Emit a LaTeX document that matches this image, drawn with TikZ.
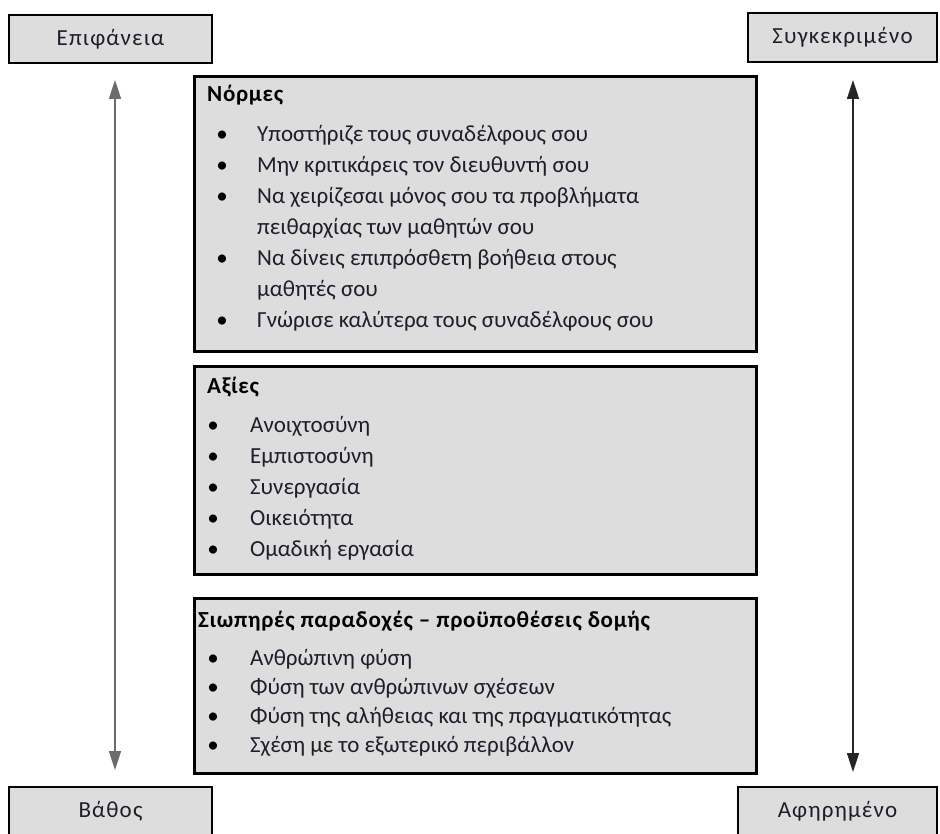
\documentclass[tikz,border=0pt]{standalone}
\usepackage{fontspec}
\setmainfont{Carlito}
\usetikzlibrary{arrows.meta}
\definecolor{boxgray}{RGB}{221,221,221}
\definecolor{txtcol}{RGB}{30,30,40}
\tikzset{
  lblbox/.style={draw=black, line width=2.8pt, fill=boxgray, inner sep=0pt,
    font=\fontsize{23}{27}\selectfont\addfontfeatures{LetterSpace=5}, text=txtcol},
  bigbox/.style={draw=black, line width=2.8pt, fill=boxgray, inner sep=0pt, anchor=north west},
  txt/.style={anchor=base west, inner sep=0pt, text=txtcol, font=\fontsize{23}{27}\selectfont},
  hd/.style={anchor=base west, inner sep=0pt, text=black, font=\bfseries\fontsize{23}{27}\selectfont\addfontfeatures{LetterSpace=3}},
  bul/.style={anchor=base, inner sep=0pt, text=black, font=\fontsize{23}{27}\selectfont},
  axisarrow/.style={line width=1.6pt, {Triangle[length=19pt,width=12pt]}-{Triangle[length=19pt,width=12pt]}}
}
\begin{document}
\begin{tikzpicture}[x=1pt,y=-1pt]
\useasboundingbox (0,0) rectangle (940,834);
% corner labels
\node[lblbox, minimum width=203pt, minimum height=48pt] (epi) at (110.5,39) {Επιφάνεια};
\node[lblbox, minimum width=189pt, minimum height=49pt] (synk) at (842.5,37.5) {Συγκεκριμένο};
\node[lblbox, minimum width=203pt, minimum height=49pt] (vath) at (110.5,811.5) {Βάθος};
\node[lblbox, minimum width=199pt, minimum height=49pt] (afir) at (837.5,811.5) {Αφηρημένο};
% big boxes
\node[bigbox, minimum width=562pt, minimum height=275pt] (norm) at (193,75) {};
\node[bigbox, minimum width=562pt, minimum height=208pt] (axies) at (193,365) {};
\node[bigbox, minimum width=562pt, minimum height=175pt] (siop) at (193,597) {};
% arrows
\coordinate (ltop) at (115,80);
\coordinate (lbot) at (115,770);
\coordinate (rtop) at (853,80);
\coordinate (rbot) at (853,772);
\draw[axisarrow, draw=gray!85!black] (ltop) -- (lbot);
\draw[axisarrow, draw=black!85] (rtop) -- (rbot);
% box 1
\node[hd] (h1) at (207,102) {Νόρμες};
\node[bul] (b11) at (222,142) {•};
\node[txt] (t11) at (257,142) {Υποστήριζε τους συναδέλφους σου};
\node[bul] (b12) at (222,173) {•};
\node[txt] (t12) at (257,173) {Μην κριτικάρεις τον διευθυντή σου};
\node[bul] (b13) at (222,204) {•};
\node[txt] (t13) at (257,204) {Να χειρίζεσαι μόνος σου τα προβλήματα};
\node[txt] (t13b) at (257,235) {πειθαρχίας των μαθητών σου};
\node[bul] (b14) at (222,266) {•};
\node[txt] (t14) at (257,266) {Να δίνεις επιπρόσθετη βοήθεια στους};
\node[txt] (t14b) at (257,297) {μαθητές σου};
\node[bul] (b15) at (222,328) {•};
\node[txt] (t15) at (257,328) {Γνώρισε καλύτερα τους συναδέλφους σου};
% box 2
\node[hd] (h2) at (207,393) {Αξίες};
\node[bul] (b21) at (213,432) {•};
\node[txt] (t21) at (250,432) {Ανοιχτοσύνη};
\node[bul] (b22) at (213,463) {•};
\node[txt] (t22) at (250,463) {Εμπιστοσύνη};
\node[bul] (b23) at (213,494) {•};
\node[txt] (t23) at (250,494) {Συνεργασία};
\node[bul] (b24) at (213,525) {•};
\node[txt] (t24) at (250,525) {Οικειότητα};
\node[bul] (b25) at (213,556) {•};
\node[txt] (t25) at (250,556) {Ομαδική εργασία};
% box 3
\node[hd] (h3) at (198,627) {Σιωπηρές παραδοχές – προϋποθέσεις δομής};
\node[bul] (b31) at (213,665) {•};
\node[txt] (t31) at (250,665) {Ανθρώπινη φύση};
\node[bul] (b32) at (213,694) {•};
\node[txt] (t32) at (250,694) {Φύση των ανθρώπινων σχέσεων};
\node[bul] (b33) at (213,723) {•};
\node[txt] (t33) at (250,723) {Φύση της αλήθειας και της πραγματικότητας};
\node[bul] (b34) at (213,752) {•};
\node[txt] (t34) at (250,752) {Σχέση με το εξωτερικό περιβάλλον};
\end{tikzpicture}
\end{document}
